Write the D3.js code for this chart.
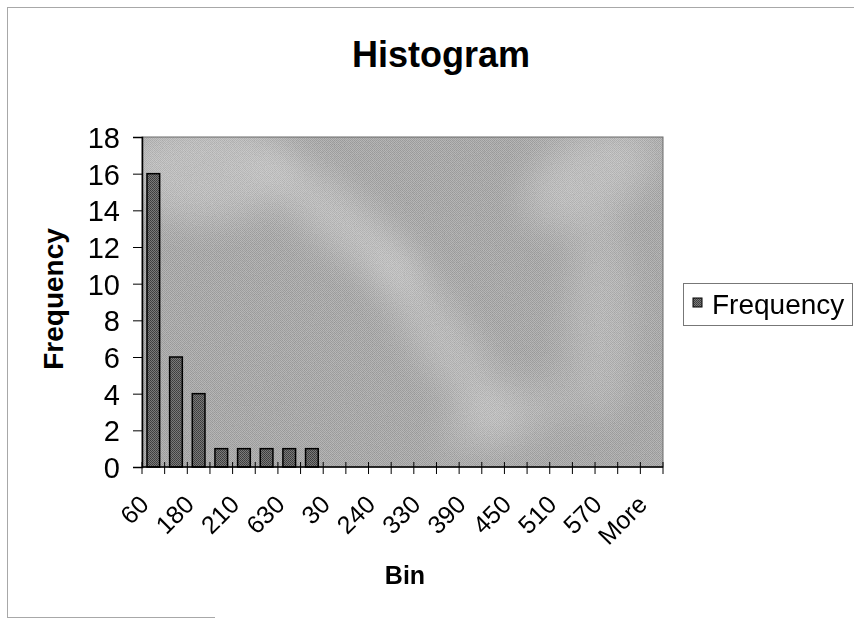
<!DOCTYPE html>
<html>
<head>
<meta charset="utf-8">
<script src="https://cdn.jsdelivr.net/npm/d3@7"></script>
<style>
  html, body { margin: 0; padding: 0; background: #fff; }
  svg { display: block; font-family: Arial, "Liberation Sans", sans-serif; }
</style>
</head>
<body>
<svg id="chart" width="854" height="618"></svg>
<script>
// Histogram bins (in the order the table lists them) and their counts
const bins = ["60", "90", "180", "190", "210", "150", "630", "0", "30", "120",
              "240", "300", "330", "360", "390", "420", "450", "480", "510", "540",
              "570", "600", "More"];
const frequency = [16, 6, 4, 1, 1, 1, 1, 1, 0, 0, 0, 0, 0, 0, 0, 0, 0, 0, 0, 0, 0, 0, 0];
const yTicks = [0, 2, 4, 6, 8, 10, 12, 14, 16, 18];
const seriesName = "Frequency";

const svg = d3.select("#chart");
const W = 854;
const plot = { left: 142, top: 137, right: 663, bottom: 467 };
const pw = plot.right - plot.left, ph = plot.bottom - plot.top;

const defs = svg.append("defs");

// Dithered grey texture for the plot background
const bgPat = defs.append("pattern").attr("id", "dither").attr("width", 2).attr("height", 2)
  .attr("patternUnits", "userSpaceOnUse");
bgPat.append("rect").attr("width", 2).attr("height", 2).attr("fill", "#b4b4b4");
bgPat.append("rect").attr("width", 1).attr("height", 1).attr("fill", "#929292");
bgPat.append("rect").attr("x", 1).attr("y", 1).attr("width", 1).attr("height", 1).attr("fill", "#969696");

// Darker dither for the bars
const barPat = defs.append("pattern").attr("id", "barDither").attr("width", 2).attr("height", 2)
  .attr("patternUnits", "userSpaceOnUse");
barPat.append("rect").attr("width", 2).attr("height", 2).attr("fill", "#7a7a7a");
barPat.append("rect").attr("width", 1).attr("height", 1).attr("fill", "#3c3c3c");
barPat.append("rect").attr("x", 1).attr("y", 1).attr("width", 1).attr("height", 1).attr("fill", "#444");

// Blur used for the light patches of the textured fill
defs.append("filter").attr("id", "soft").attr("x", "-50%").attr("y", "-50%")
  .attr("width", "200%").attr("height", "200%")
  .append("feGaussianBlur").attr("stdDeviation", 18);

// Fine grain over the plot fill
const grain = defs.append("filter").attr("id", "grain");
grain.append("feTurbulence").attr("type", "fractalNoise").attr("baseFrequency", 0.9)
  .attr("numOctaves", 2).attr("seed", 7).attr("result", "n");
grain.append("feColorMatrix").attr("type", "matrix")
  .attr("values", "0.33 0.33 0.33 0 0  0.33 0.33 0.33 0 0  0.33 0.33 0.33 0 0  0 0 0 0 0.22");

defs.append("clipPath").attr("id", "plotClip").append("rect")
  .attr("x", plot.left).attr("y", plot.top).attr("width", pw).attr("height", ph);

// Outer chart frame
svg.append("line").attr("x1", 7).attr("y1", 7.5).attr("x2", W).attr("y2", 7.5)
  .attr("stroke", "#a8a8a8").attr("stroke-width", 1);
svg.append("line").attr("x1", 7.5).attr("y1", 7).attr("x2", 7.5).attr("y2", 617)
  .attr("stroke", "#a8a8a8").attr("stroke-width", 1);
svg.append("line").attr("x1", 7).attr("y1", 617.5).attr("x2", 215).attr("y2", 617.5)
  .attr("stroke", "#a8a8a8").attr("stroke-width", 1);

const x = d3.scaleBand().domain(bins).range([plot.left, plot.right]).paddingInner(0.44).paddingOuter(0.22);
const y = d3.scaleLinear().domain([0, 18]).range([plot.bottom, plot.top]);

// Plot area: grey dither with lighter marbled patches and grain
svg.append("rect").attr("x", plot.left).attr("y", plot.top).attr("width", pw).attr("height", ph)
  .attr("fill", "url(#dither)");
const patches = svg.append("g").attr("clip-path", "url(#plotClip)").append("g")
  .attr("filter", "url(#soft)");
// patch positions as fractions of the plot area: [cx, cy, rx, ry, angle, opacity]
const patchSpec = [
  [0.12, 0.10, 0.16, 0.10, 0, 0.30],
  [0.38, 0.25, 0.20, 0.05, 40, 0.32],
  [0.58, 0.62, 0.22, 0.05, 55, 0.28],
  [0.86, 0.12, 0.14, 0.08, -30, 0.30],
  [0.88, 0.55, 0.06, 0.20, 0, 0.22],
  [0.70, 0.85, 0.14, 0.05, -20, 0.20]
];
patches.selectAll("ellipse").data(patchSpec).join("ellipse")
  .attr("transform", d => `translate(${plot.left + d[0] * pw},${plot.top + d[1] * ph}) rotate(${d[4]})`)
  .attr("rx", d => d[2] * pw).attr("ry", d => d[3] * pw)
  .attr("fill", "#fff").attr("opacity", d => d[5]);
svg.append("rect").attr("x", plot.left).attr("y", plot.top).attr("width", pw).attr("height", ph)
  .attr("fill", "#fff").attr("filter", "url(#grain)").attr("clip-path", "url(#plotClip)");
svg.append("rect").attr("x", plot.left).attr("y", plot.top).attr("width", pw).attr("height", ph)
  .attr("fill", "none").attr("stroke", "#6a6a6a").attr("stroke-width", 1);

// Bars
svg.append("g").selectAll("rect").data(bins.map((b, i) => ({ bin: b, v: frequency[i] })).filter(d => d.v > 0))
  .join("rect")
  .attr("x", d => x(d.bin)).attr("width", x.bandwidth())
  .attr("y", d => y(d.v)).attr("height", d => y(0) - y(d.v))
  .attr("fill", "url(#barDither)").attr("stroke", "#000").attr("stroke-width", 1.5);

// Y axis
const yAxis = svg.append("g").attr("transform", `translate(${plot.left},0)`)
  .call(d3.axisLeft(y).tickValues(yTicks).tickSize(9).tickPadding(13));
yAxis.select(".domain").attr("stroke", "#000").attr("stroke-width", 1.5);
yAxis.selectAll(".tick line").attr("stroke", "#000");
yAxis.selectAll(".tick text").attr("font-size", 29).attr("fill", "#000").attr("dy", "0.36em")
  .attr("font-family", "Arial, 'Liberation Sans', sans-serif");

// X axis: ticks on the bin boundaries, every other bin labelled
const step = x.step();
const x0 = x(bins[0]) - x.paddingOuter() * step;
const xg = svg.append("g");
xg.append("line").attr("x1", plot.left).attr("x2", plot.right)
  .attr("y1", plot.bottom).attr("y2", plot.bottom).attr("stroke", "#000").attr("stroke-width", 1.5);
xg.selectAll("line.tick").data(d3.range(bins.length + 1)).join("line").attr("class", "tick")
  .attr("x1", i => x0 + i * step).attr("x2", i => x0 + i * step)
  .attr("y1", plot.bottom - 5).attr("y2", plot.bottom + 7).attr("stroke", "#000");
xg.selectAll("text").data(bins.filter((b, i) => i % 2 === 0)).join("text")
  .attr("transform", d => `translate(${x(d) + x.bandwidth() / 2 - 3},${plot.bottom + 39}) rotate(-45)`)
  .attr("text-anchor", "end").attr("font-size", 25).attr("fill", "#000")
  .text(d => d);

// Titles
svg.append("text").attr("x", 441).attr("y", 67).attr("text-anchor", "middle")
  .attr("font-size", 36).attr("font-weight", "bold").text("Histogram");
svg.append("text").attr("transform", "translate(63,299) rotate(-90)")
  .attr("text-anchor", "middle").attr("font-size", 28).attr("font-weight", "bold").text("Frequency");
svg.append("text").attr("x", 405).attr("y", 584).attr("text-anchor", "middle")
  .attr("font-size", 25).attr("font-weight", "bold").text("Bin");

// Legend
const lg = svg.append("g");
lg.append("rect").attr("x", 683.5).attr("y", 283.5).attr("width", 169).attr("height", 42)
  .attr("fill", "#fff").attr("stroke", "#777").attr("stroke-width", 1);
lg.append("rect").attr("x", 693).attr("y", 298).attr("width", 9).attr("height", 9)
  .attr("fill", "url(#barDither)").attr("stroke", "#000").attr("stroke-width", 1);
lg.append("text").attr("x", 712).attr("y", 314).attr("font-size", 28).text(seriesName);
</script>
</body>
</html>
